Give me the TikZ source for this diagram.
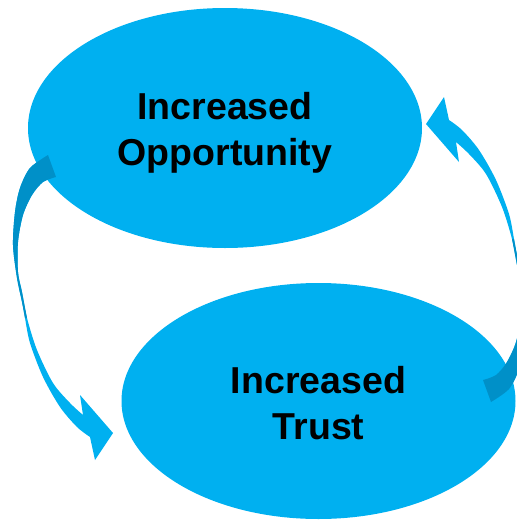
\documentclass[tikz,border=0pt]{standalone}
\usepackage{fontspec}
\setmainfont{Liberation Sans}
\usepackage{tikz}
\usetikzlibrary{shapes.geometric}
\definecolor{bubbleblue}{HTML}{00B0F0}
\definecolor{backblue}{HTML}{0090C8}
\tikzset{%
    bubble/.style={%
        shape=ellipse, fill=bubbleblue, inner sep=0pt
    },
    caption/.style={%
        align=center, inner sep=0pt, font=\bfseries\fontsize{37.5}{46}\selectfont
    }
}

\begin{document}
\begin{tikzpicture}[x=1pt, y=-1pt]
    \useasboundingbox (0,0) rectangle (517,520);
    \clip (0,0) rectangle (517,520);

    \node[bubble, minimum width=394pt, minimum height=240pt] (opportunity) at (225,128) {};
    \node[bubble, minimum width=394pt, minimum height=236pt] (trust) at (318.5,401) {};
    \node[caption] (opportunitytext) at ([yshift=-5pt]opportunity.center) {Increased\\Opportunity};
    \node[caption] (trusttext) at ([yshift=-2pt]trust.center) {Increased\\Trust};

    \foreach \turn in {0,180} {
        \begin{scope}[rotate around={\turn:(269.5,278.5)}]
            \fill[bubbleblue]
                plot[smooth] coordinates {(48,155) (30,168) (20,188) (15,212) (13,245) (17,278)
                    (22,302) (25,318) (30,343) (43,377) (60,407) (77,427) (90,437)}
                -- (95,460) -- (113,433) -- (80,395) -- (83,415)
                -- plot[smooth] coordinates {(83,415) (70,403) (53,383) (37,350) (27,318)
                    (22,292) (18,272) (18,242) (23,215) (32,195) (43,182) (56,177)}
                -- cycle;
            \fill[backblue]
                plot[smooth] coordinates {(48,155) (30,168) (20,188) (15,212) (13,245) (17,278)
                    (22,302) (25,318)}
                -- plot[smooth] coordinates {(27,318) (22,292) (18,272) (18,242) (23,215)
                    (32,195) (43,182) (56,177)}
                -- cycle;
        \end{scope}
    }
\end{tikzpicture}
\end{document}
